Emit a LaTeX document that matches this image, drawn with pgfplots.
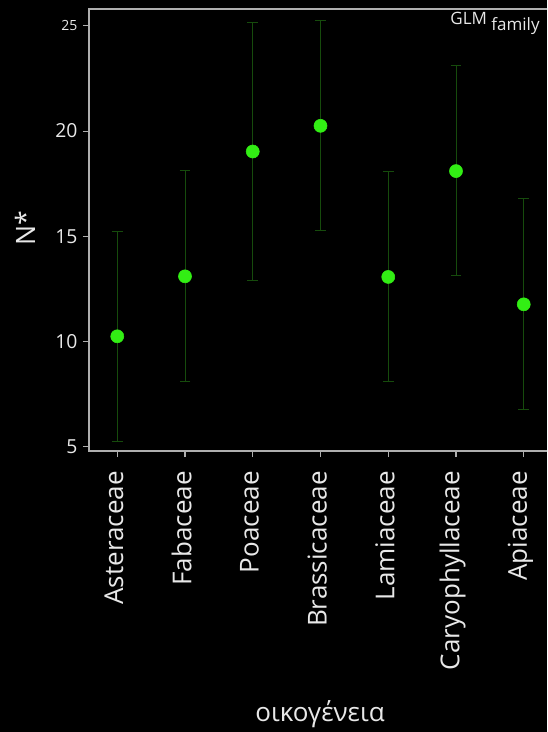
\documentclass[border=0pt]{standalone}
\usepackage{fontspec}
\setmainfont{Open Sans}
\usepackage{pgfplots}
\pgfplotsset{compat=1.18}
\definecolor{axgray}{RGB}{175,175,175}
\definecolor{txt}{RGB}{232,232,232}
\definecolor{ptgreen}{RGB}{50,238,20}
\definecolor{errgreen}{RGB}{22,75,12}
\begin{document}
\begin{tikzpicture}
\useasboundingbox (0,0) rectangle (410.25pt,-549pt);
\clip (0,0) rectangle (410.25pt,-549pt);
\fill[black] (0,0) rectangle (410.25pt,-549pt);
\begin{axis}[
  at={(66.75pt,-338.25pt)}, anchor=south west,
  scale only axis, width=347.25pt, height=331.5pt,
  xmin=0.583, xmax=7.417, ymin=4.8, ymax=25.8,
  axis line style={axgray, line width=0.8pt},
  tick style={axgray, line width=0.8pt},
  tick align=outside, major tick length=4.5pt,
  xtick pos=left, ytick pos=left,
  xtick={1,2,3,4,5,6,7},
  xticklabels={Asteraceae,Fabaceae,Poaceae,Brassicaceae,Lamiaceae,Caryophyllaceae,Apiaceae},
  xticklabel style={rotate=90, anchor=east, font=\fontsize{19.5}{23}\selectfont, text=txt, inner sep=0pt, xshift=-10.5pt, yshift=2.5pt},
  ytick={5,10,15,20,25},
  yticklabels={5,10,15,20,{\fontsize{10.5}{12}\selectfont 25}},
  yticklabel style={font=\fontsize{14.5}{17}\selectfont, text=txt, inner sep=0pt, xshift=-4pt},
  /pgf/number format/assume math mode=true,
  xlabel={οικογένεια},
  xlabel style={at={(axis description cs:0.499,-0.613)}, anchor=base, font=\fontsize{19.5}{23}\selectfont, text=txt},
  ylabel={N*},
  ylabel style={at={(axis description cs:-0.138,0.505)}, anchor=center, font=\fontsize{20}{23}\selectfont, text=txt},
  title={GLM\raisebox{-4.5pt}{ family}},
  title style={at={(axis description cs:0.78,0.964)}, anchor=base west, yshift=-6pt, font=\fontsize{12.75}{15}\selectfont, text=txt, inner sep=0pt},
]
\addplot[draw=none, mark=none,
  error bars/.cd, y dir=both, y explicit,
  error bar style={errgreen, line width=0.7pt},
  error mark options={rotate=90, mark size=4.1pt, errgreen, line width=0.7pt}]
  table[x=x, y=y, y error plus=ep, y error minus=em] {
x y ep em
1 10.25 5.00 4.98
2 13.10 5.02 4.98
3 19.03 6.14 6.12
4 20.25 5.02 4.98
5 13.07 5.01 4.97
6 18.10 5.02 4.98
7 11.77 5.02 4.98
};
\addplot[only marks, mark=*, mark size=4.9pt, mark options={fill=ptgreen, draw=ptgreen}]
  table[x=x, y=y] {
x y
1 10.25
2 13.10
3 19.03
4 20.25
5 13.07
6 18.10
7 11.77
};
\end{axis}
\end{tikzpicture}
\end{document}
